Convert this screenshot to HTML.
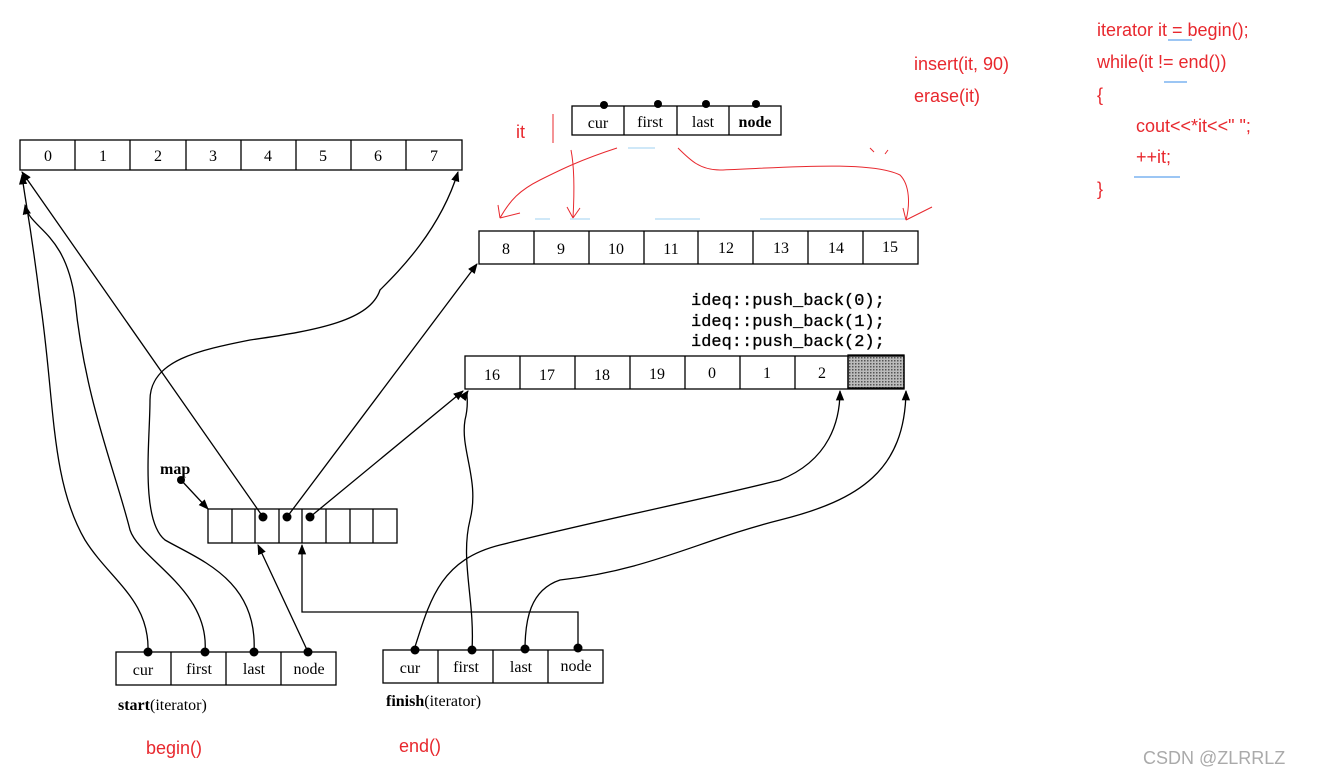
<!DOCTYPE html>
<html><head><meta charset="utf-8"><style>
html,body{margin:0;padding:0;background:#fff;}
svg{display:block}
.s{font-family:"Liberation Serif",serif;font-size:16px;fill:#000}
.r{font-family:"Liberation Sans","Noto Sans CJK SC",sans-serif;font-size:18px;fill:#e8282e}
.m{font-family:"Liberation Mono",monospace;font-size:17px;fill:#000;stroke:#000;stroke-width:0.3}
</style></head><body>
<svg width="1326" height="780" viewBox="0 0 1326 780" xmlns="http://www.w3.org/2000/svg">
<defs>
<marker id="a" viewBox="0 0 10 10" refX="9" refY="5" markerWidth="8" markerHeight="8" orient="auto-start-reverse"><path d="M0,1 L10,5 L0,9 Z" fill="#000"/></marker>
<pattern id="h" width="3" height="3" patternUnits="userSpaceOnUse"><rect width="3" height="3" fill="#bbb"/><rect width="1.5" height="1.5" fill="#555"/></pattern>
</defs>
<g stroke="#000" stroke-width="1.3" fill="none">
<rect x="20" y="140" width="442" height="30"/>
<path d="M75 140V170M130 140V170M186 140V170M241 140V170M296 140V170M351 140V170M406 140V170"/>
<rect x="479" y="231" width="439" height="33"/>
<path d="M534 231V264M589 231V264M644 231V264M698 231V264M753 231V264M808 231V264M863 231V264"/>
<rect x="848" y="355" width="56" height="33" fill="url(#h)"/>
<rect x="465" y="356" width="439" height="33"/>
<path d="M520 356V389M575 356V389M630 356V389M685 356V389M740 356V389M795 356V389M848 356V389"/>
<rect x="572" y="106" width="209" height="29"/>
<path d="M624 106V135M677 106V135M729 106V135"/>
<rect x="208" y="509" width="189" height="34"/>
<path d="M232 509V543M255 509V543M279 509V543M302 509V543M326 509V543M350 509V543M373 509V543"/>
<rect x="116" y="652" width="220" height="33"/>
<path d="M171 652V685M226 652V685M281 652V685"/>
<rect x="383" y="650" width="220" height="33"/>
<path d="M438 650V683M493 650V683M548 650V683"/>
<path d="M181 480L208 509" marker-end="url(#a)"/>
<path d="M263 517L22 172" marker-end="url(#a)"/>
<path d="M287 517L477 264" marker-end="url(#a)"/>
<path d="M310 517L463 391" marker-end="url(#a)"/>
<path d="M308 652L258 545" marker-end="url(#a)"/>
<path d="M578 650V612H302V545" marker-end="url(#a)"/>
<path d="M148 652C150 600 110 580 85 540C50 480 55 400 40 300C30 220 25 200 22 175" marker-end="url(#a)"/>
<path d="M205 652C210 590 140 560 130 530C115 470 85 400 75 300C65 230 30 230 25 205" marker-end="url(#a)"/>
<path d="M254 652C258 580 200 560 165 540C140 520 150 440 150 400C150 360 200 350 250 340C320 330 370 320 380 290C400 270 440 230 458 172" marker-end="url(#a)"/>
<path d="M414 650C430 600 440 560 500 545C600 520 700 500 780 480C830 460 840 420 840 391" marker-end="url(#a)"/>
<path d="M472 650C475 600 460 560 470 520C480 480 460 450 465 420C470 400 465 395 468 391" marker-end="url(#a)"/>
<path d="M525 650C525 620 530 590 560 580C650 570 700 540 780 520C860 500 905 470 906 391" marker-end="url(#a)"/>
</g>
<g fill="#000">
<circle cx="181" cy="480" r="4"/>
<circle cx="263" cy="517" r="4.5"/><circle cx="287" cy="517" r="4.5"/><circle cx="310" cy="517" r="4.5"/>
<circle cx="148" cy="652" r="4.5"/><circle cx="205" cy="652" r="4.5"/><circle cx="254" cy="652" r="4.5"/><circle cx="308" cy="652" r="4.5"/>
<circle cx="415" cy="650" r="4.5"/><circle cx="472" cy="650" r="4.5"/><circle cx="525" cy="649" r="4.5"/><circle cx="578" cy="648" r="4.5"/>
<circle cx="604" cy="105" r="4"/><circle cx="658" cy="104" r="4"/><circle cx="706" cy="104" r="4"/><circle cx="756" cy="104" r="4"/>
</g>
<g class="s" text-anchor="middle">
<text x="48" y="161">0</text><text x="103" y="161">1</text><text x="158" y="161">2</text><text x="213" y="161">3</text><text x="268" y="161">4</text><text x="323" y="161">5</text><text x="378" y="161">6</text><text x="434" y="161">7</text>
<text x="506" y="254">8</text><text x="561" y="254">9</text><text x="616" y="254">10</text><text x="671" y="254">11</text><text x="726" y="253">12</text><text x="781" y="253">13</text><text x="836" y="253">14</text><text x="890" y="252">15</text>
<text x="492" y="380">16</text><text x="547" y="380">17</text><text x="602" y="380">18</text><text x="657" y="379">19</text><text x="712" y="378">0</text><text x="767" y="378">1</text><text x="822" y="378">2</text>
<text x="598" y="128">cur</text><text x="650" y="127">first</text><text x="703" y="127">last</text><text x="755" y="127" font-weight="bold">node</text>
<text x="143" y="675">cur</text><text x="199" y="674">first</text><text x="254" y="674">last</text><text x="309" y="674">node</text>
<text x="410" y="673">cur</text><text x="466" y="672">first</text><text x="521" y="672">last</text><text x="576" y="671">node</text>
</g>
<text class="s" x="160" y="474" font-weight="bold" font-size="17">map</text>
<text class="s" x="118" y="710" font-size="18"><tspan font-weight="bold">start</tspan>(iterator)</text>
<text class="s" x="386" y="706" font-size="18"><tspan font-weight="bold">finish</tspan>(iterator)</text>
<text class="m" x="691" y="305">ideq::push_back(0);</text>
<text class="m" x="691" y="326">ideq::push_back(1);</text>
<text class="m" x="691" y="346">ideq::push_back(2);</text>
<g class="r">
<text x="146" y="754">begin()</text>
<text x="399" y="752">end()</text>
<text x="516" y="138">it</text>
<text x="914" y="70">insert(it, 90)</text>
<text x="914" y="102">erase(it)</text>
<text x="1097" y="36">iterator  it = begin();</text>
<text x="1097" y="68">while(it != end())</text>
<text x="1097" y="101">{</text>
<text x="1136" y="132">cout&lt;&lt;*it&lt;&lt;"  ";</text>
<text x="1136" y="163">++it;</text>
<text x="1097" y="195">}</text>
</g>
<g stroke="#e8282e" stroke-width="1" fill="none">
<path d="M553 114V143"/>
<path d="M617 148C580 160 560 170 540 180C520 190 510 200 500 218M500 218L498 205M500 218L520 213"/>
<path d="M571 150C575 170 574 200 573 218M573 218L567 207M573 218L580 208"/>
<path d="M678 148C690 160 700 170 720 170C780 168 870 160 900 175C910 185 910 205 906 220M906 220L903 208M906 220L932 207"/>
<path d="M870 148L874 152M888 150L885 154"/>
<path d="M1168 40H1192M1164 82H1187M1134 177H1180" stroke="#3a8ee8"/>
</g>
<g stroke="#9fd0f0" stroke-width="1"><path d="M535 219H550M570 219H590M655 219H700M760 219H905M628 148H655"/></g>
<text x="1143" y="764" font-family="Liberation Sans,sans-serif" font-size="18" fill="#aaa">CSDN @ZLRRLZ</text>
</svg>
</body></html>
